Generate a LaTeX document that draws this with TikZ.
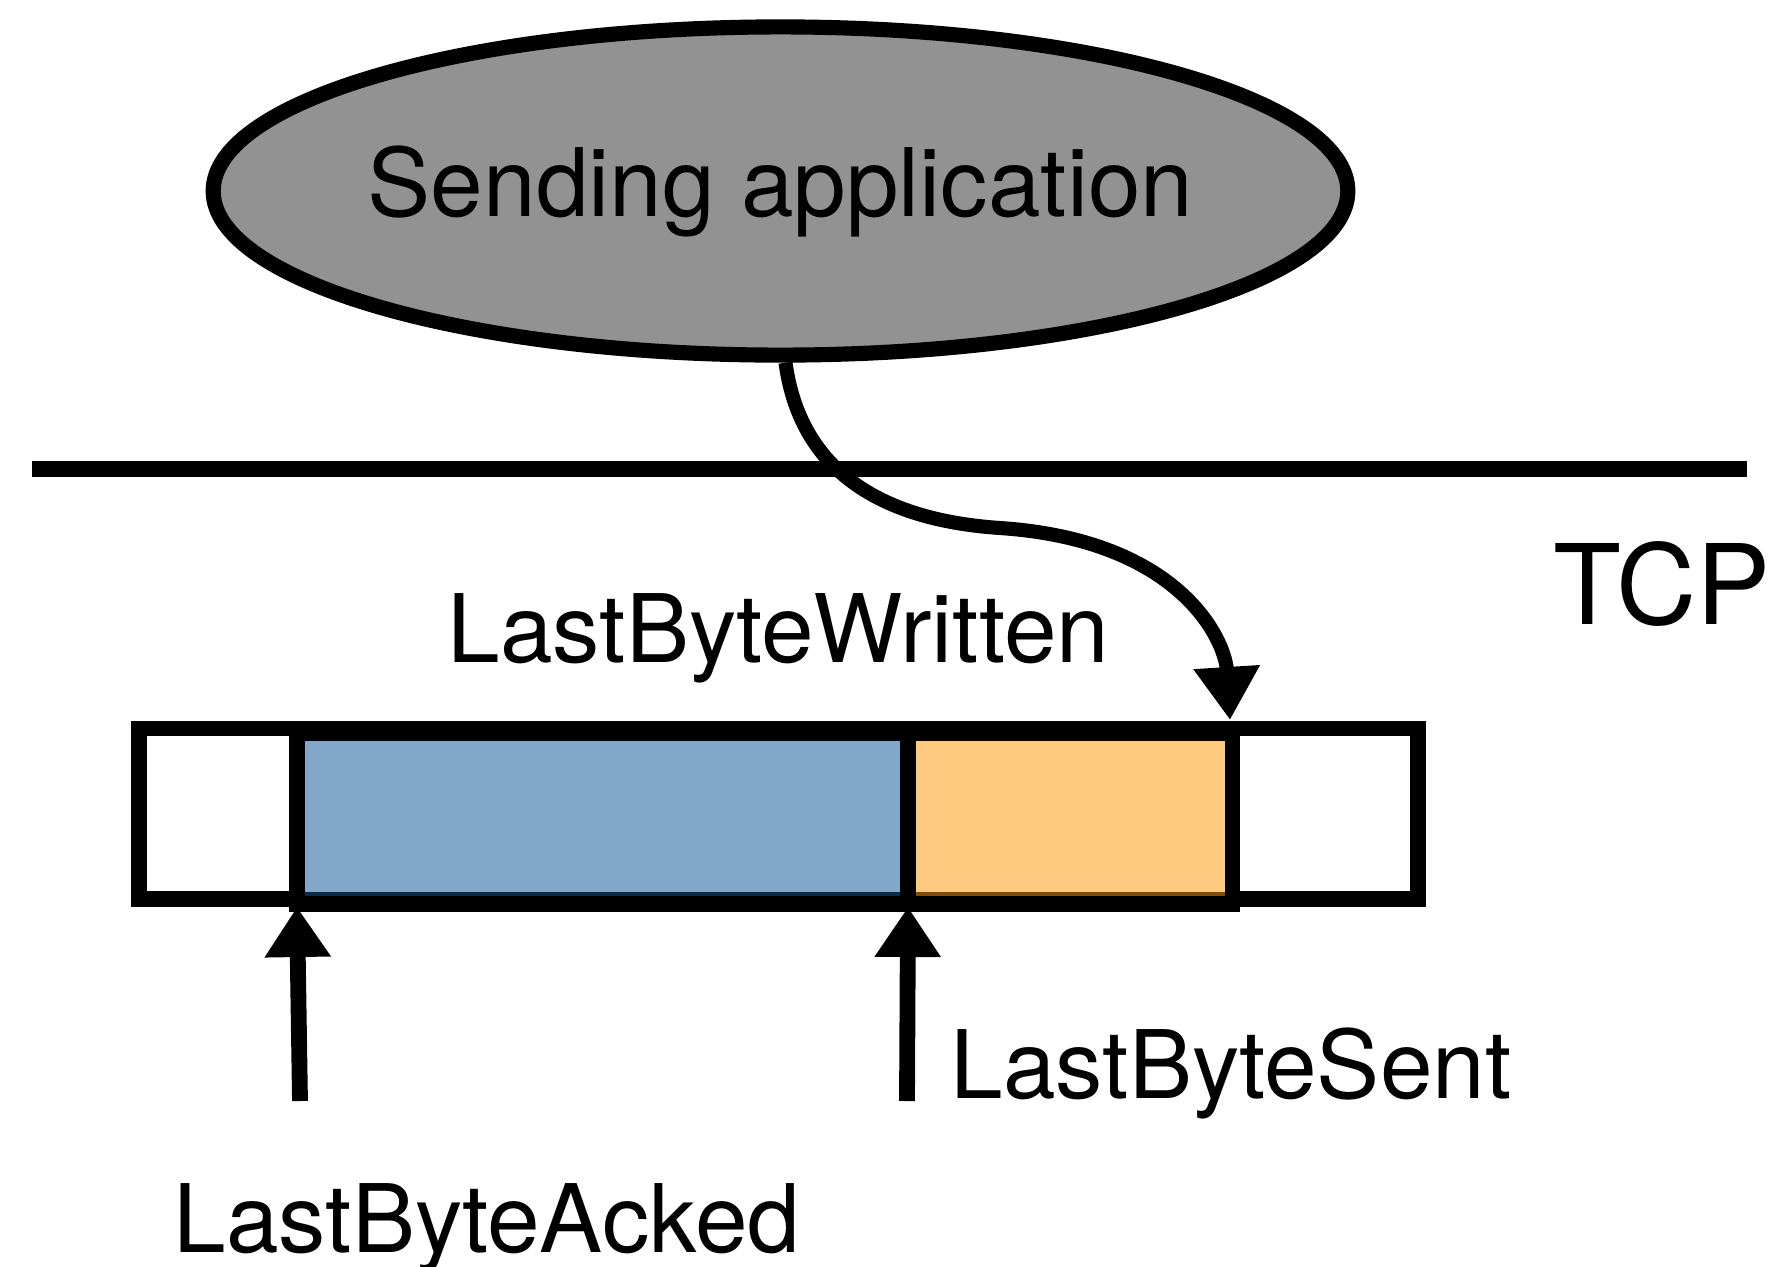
\documentclass[tikz,border=0pt]{standalone}
\usepackage{fontspec}
\setmainfont{TeX Gyre Heros}
\usetikzlibrary{arrows.meta,shapes.geometric}
\definecolor{appgray}{HTML}{929292}
\definecolor{sentblue}{HTML}{81A8C9}
\definecolor{sentdark}{HTML}{0B2A4A}
\definecolor{unsentorange}{HTML}{FECA80}
\definecolor{unsentdark}{HTML}{7F4C0A}
\tikzset{
  bigfont/.style={font=\fontsize{26.9}{32}\selectfont},
  labeltext/.style={bigfont, inner sep=0pt, anchor=base west},
  bufline/.style={line width=4.5pt},
  ptrarrow/.style={line width=4.5pt, -{Triangle[length=0.5cm,width=0.63cm]}}
}
\begin{document}
\begin{tikzpicture}[x=0.01cm,y=-0.01cm]
\useasboundingbox (0,0) rectangle (1784,1266);
\node[ellipse, draw, fill=appgray, line width=4.3pt, minimum width=11.34cm, minimum height=3.28cm, inner xsep=-0.2cm, inner ysep=0pt, bigfont] (app) at (780.5,191) {Sending application};
\draw[line width=4.3pt] (32,469) -- (1747,469);
\node[labeltext, font=\fontsize{31.6}{36}\selectfont] (tcp) at (1553,624) {TCP};
\draw[bufline, fill=white] (139,728.5) rectangle (1418,899);
\draw[fill=sentblue, draw=sentdark, line width=1.4pt] (300,738) rectangle (907,894);
\draw[fill=unsentorange, draw=unsentdark, line width=1.4pt] (907,738) rectangle (1230,894);
\draw[bufline] (297,733.5) rectangle (1232.5,904);\draw[bufline] (908,733.5) -- (908,904);
\coordinate (acked) at (297,907);\coordinate (sent) at (908,907);\coordinate (written) at (1230,720);
\coordinate (ackedtail) at (300,1101);\coordinate (senttail) at (907,1101);
\draw[ptrarrow] (ackedtail) -- (acked);\draw[ptrarrow] (senttail) -- (sent);
\draw[line width=4pt, -{Triangle[length=0.53cm,width=0.63cm]}] ([xshift=0.05cm]app.south) .. controls (800,470) and (880,520) .. (1000,528) .. controls (1180,540) and (1225,640) .. (written);
\node[labeltext] (lbw) at (447,662) {LastByteWritten};
\node[labeltext] (lbs) at (950,1098) {LastByteSent};
\node[labeltext] (lba) at (173,1252) {LastByteAcked};
\end{tikzpicture}
\end{document}
